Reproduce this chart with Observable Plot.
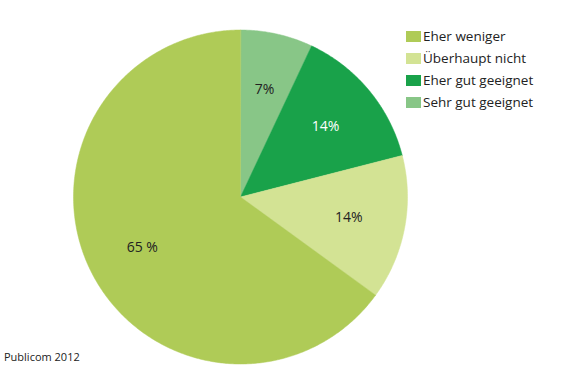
<!DOCTYPE html>
<html><head><meta charset="utf-8">
<script src="https://cdn.jsdelivr.net/npm/d3@7"></script>
<script src="https://cdn.jsdelivr.net/npm/@observablehq/plot@0.6"></script>
<style>
body{margin:0;background:#fff;font-family:"Open Sans",sans-serif;}
#wrap{position:relative;width:568px;height:378px;}
#legend{position:absolute;left:406px;top:25px;font-size:13.5px;color:#222;}
#legend div{display:flex;align-items:center;height:22px;}
#legend span.sw{display:inline-block;width:15px;height:11px;margin-right:2px;}
#caption{position:absolute;left:4px;top:349px;font-size:11px;color:#222;}
</style></head>
<body><div id="wrap"><div id="chart"></div><div id="legend"></div><div id="caption">Publicom 2012</div></div>
<script>
// Slices in clockwise order starting at 12 o'clock
const categories = ["Sehr gut geeignet", "Eher gut geeignet", "Überhaupt nicht", "Eher weniger"];
const values = [7, 14, 14, 65];
const labels = ["7%", "14%", "14%", "65 %"];
const labelColors = ["#222", "#fff", "#222", "#222"];
const legendOrder = ["Eher weniger", "Überhaupt nicht", "Eher gut geeignet", "Sehr gut geeignet"];
const colors = {"Eher weniger": "#afcb57", "Überhaupt nicht": "#d3e394", "Eher gut geeignet": "#19a24a", "Sehr gut geeignet": "#88c687"};

const arcs = d3.pie().sort(null).value(d => d)(values);
const pts = [];
const labs = [];
arcs.forEach((a, i) => {
  const n = Math.max(2, Math.ceil((a.endAngle - a.startAngle) / 0.01));
  pts.push({k: categories[i], x: 0, y: 0});
  for (let j = 0; j <= n; j++) {
    const t = a.startAngle + (a.endAngle - a.startAngle) * j / n;
    pts.push({k: categories[i], x: Math.sin(t), y: Math.cos(t)});
  }
  const m = (a.startAngle + a.endAngle) / 2;
  labs.push({k: categories[i], x: 0.66 * Math.sin(m), y: 0.66 * Math.cos(m), t: labels[i], c: labelColors[i]});
});

const chart = Plot.plot({
  width: 568, height: 378,
  marginLeft: 73, marginRight: 161, marginTop: 29.5, marginBottom: 14.5,
  x: {domain: [-1, 1], axis: null},
  y: {domain: [-1, 1], axis: null},
  color: {domain: legendOrder, range: legendOrder.map(k => colors[k])},
  style: {fontFamily: "Open Sans, sans-serif", background: "#fff"},
  marks: [
    Plot.line(pts, {x: "x", y: "y", z: "k", fill: "k", stroke: "k", strokeWidth: 0.5, curve: "linear-closed"}),
    Plot.text(labs, {x: "x", y: "y", text: "t", fill: "c", fontSize: 14})
  ]
});
document.getElementById("chart").appendChild(chart);

const lg = document.getElementById("legend");
legendOrder.forEach(k => {
  const d = document.createElement("div");
  d.innerHTML = `<span class="sw" style="background:${colors[k]}"></span>${k}`;
  lg.appendChild(d);
});
</script></body></html>
